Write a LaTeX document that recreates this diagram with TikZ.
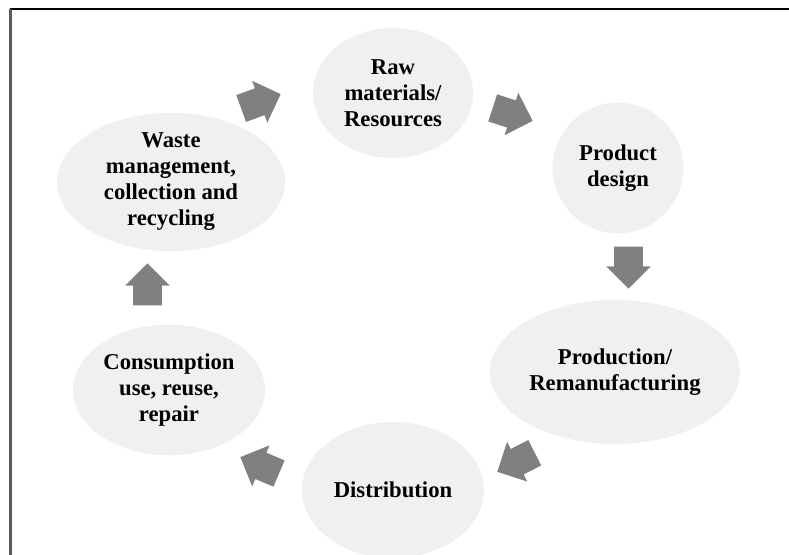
\documentclass[tikz,border=0pt]{standalone}
\usepackage{fontspec}
\setmainfont{Liberation Serif}
\usetikzlibrary{shapes,shapes.arrows,positioning}
\definecolor{stagefill}{RGB}{240,240,240}
\definecolor{flowgray}{RGB}{128,128,128}
\definecolor{framegray}{RGB}{90,90,90}
\tikzstyle{stage}=[ellipse, fill=stagefill, inner sep=0pt, align=center, font=\fontsize{17}{19.5}\selectfont\bfseries]
\tikzstyle{flow}=[single arrow, anchor=tip, fill=flowgray, inner xsep=0pt, inner ysep=10.5pt, minimum height=31.5pt, single arrow head extend=6pt, single arrow tip angle=90]

\begin{document}
\begin{tikzpicture}[x=0.75pt,y=-0.75pt]
\useasboundingbox (0,0) rectangle (789,555);
\draw[line width=1.5pt] (9.5,9.5) -- (789,9.5);
\draw[framegray, line width=1.6pt] (10.5,9) -- (10.5,555);

\node (raw) at (393,93)[stage, minimum width=120pt, minimum height=97.5pt] {Raw\\materials/\\Resources};
\node (design) at (618,168)[stage, minimum width=98pt, minimum height=98pt] {Product\\design};
\node (production) at (615,372)[stage, minimum width=187.5pt, minimum height=108pt] {Production/\\Remanufacturing};
\node (distribution) at (393,490)[stage, minimum width=136.5pt, minimum height=102pt] {Distribution};
\node (consumption) at (169,390)[stage, minimum width=144pt, minimum height=98pt] {Consumption\\use, reuse,\\repair};
\node (waste) at (171,182)[stage, minimum width=171pt, minimum height=97.5pt] {Waste\\management,\\collection and\\recycling};

\node (f1) at (281,94)[flow, rotate=20] {};
\node (f2) at (533,121)[flow, rotate=-18] {};
\node (f3) at (628.5,289)[flow, rotate=-90] {};
\node (f4) at (497,472)[flow, rotate=-153] {};
\node (f5) at (240,457)[flow, rotate=157] {};
\node (f6) at (147.5,263)[flow, rotate=90] {};
\end{tikzpicture}
\end{document}
